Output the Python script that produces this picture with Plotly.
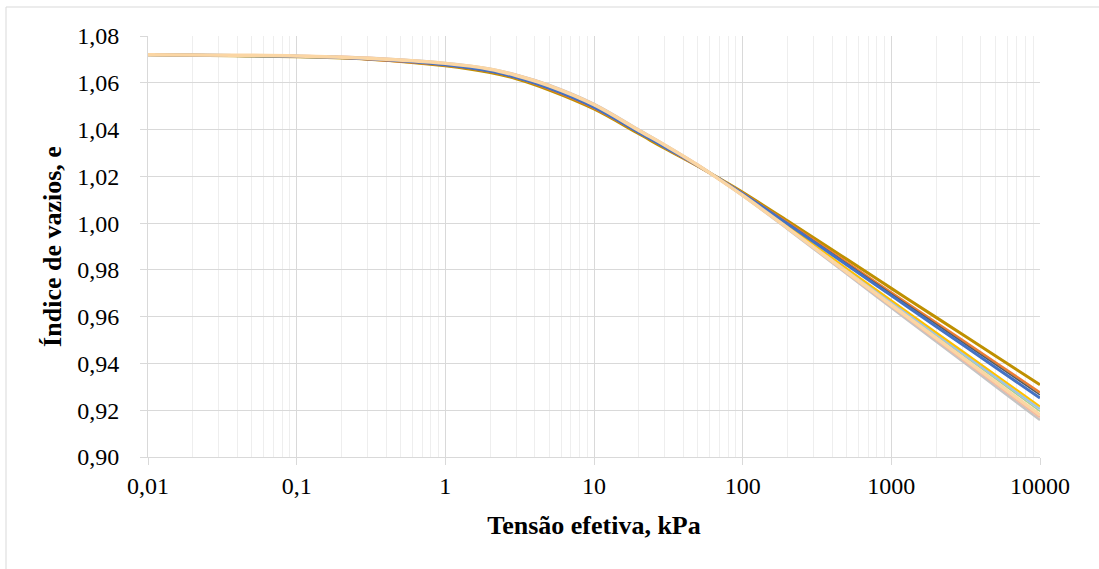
import plotly.graph_objects as go

# Effective stress (kPa)
sigma = [0.01, 0.1, 0.3, 1, 2, 3, 5, 10, 20, 30, 50, 70, 100, 200, 500, 1000, 2000, 5000, 10000]

# Void ratio series
s1 = [1.0720, 1.0711, 1.0701, 1.0673, 1.0644, 1.0617, 1.0569, 1.0488, 1.0382, 1.0319, 1.0243, 1.0190, 1.0132, 1.0010, 0.9846, 0.9721, 0.9597, 0.9433, 0.9309]
s2 = [1.0720, 1.0713, 1.0701, 1.0675, 1.0648, 1.0621, 1.0573, 1.0492, 1.0386, 1.0323, 1.0243, 1.0189, 1.0128, 1.0003, 0.9832, 0.9703, 0.9575, 0.9405, 0.9276]
s3 = [1.0720, 1.0713, 1.0703, 1.0675, 1.0648, 1.0621, 1.0575, 1.0494, 1.0386, 1.0323, 1.0245, 1.0188, 1.0127, 1.0000, 0.9828, 0.9698, 0.9568, 0.9396, 0.9266]
s4 = [1.0720, 1.0713, 1.0703, 1.0677, 1.0650, 1.0623, 1.0577, 1.0496, 1.0388, 1.0325, 1.0245, 1.0188, 1.0126, 0.9997, 0.9822, 0.9690, 0.9558, 0.9384, 0.9252]
s5 = [1.0720, 1.0713, 1.0705, 1.0679, 1.0654, 1.0627, 1.0583, 1.0502, 1.0392, 1.0329, 1.0247, 1.0187, 1.0122, 0.9989, 0.9807, 0.9670, 0.9533, 0.9353, 0.9216]
s6 = [1.0720, 1.0715, 1.0705, 1.0681, 1.0654, 1.0629, 1.0583, 1.0502, 1.0394, 1.0329, 1.0247, 1.0187, 1.0121, 0.9986, 0.9803, 0.9664, 0.9526, 0.9343, 0.9205]
s7 = [1.0720, 1.0715, 1.0705, 1.0681, 1.0656, 1.0629, 1.0585, 1.0504, 1.0394, 1.0331, 1.0247, 1.0186, 1.0120, 0.9984, 0.9798, 0.9659, 0.9519, 0.9335, 0.9195]
s8 = [1.0720, 1.0715, 1.0705, 1.0683, 1.0658, 1.0631, 1.0587, 1.0506, 1.0396, 1.0333, 1.0247, 1.0186, 1.0119, 0.9980, 0.9792, 0.9650, 0.9509, 0.9322, 0.9180]
s9 = [1.0720, 1.0715, 1.0707, 1.0683, 1.0658, 1.0633, 1.0589, 1.0508, 1.0398, 1.0333, 1.0249, 1.0186, 1.0118, 0.9978, 0.9788, 0.9645, 0.9502, 0.9313, 0.9170]
s10 = [1.0720, 1.0715, 1.0707, 1.0685, 1.0660, 1.0635, 1.0591, 1.0510, 1.0400, 1.0335, 1.0249, 1.0185, 1.0117, 0.9975, 0.9783, 0.9638, 0.9494, 0.9303, 0.9158]

x_tickvals = [0.01, 0.1, 1, 10, 100, 1000, 10000]
x_ticktext = ["0,01", "0,1", "1", "10", "100", "1000", "10000"]
minor_vals = [m * d for d in [0.01, 0.1, 1, 10, 100, 1000] for m in range(2, 10)]

series = [
    (s10, "#C4C4C4", 2.5),
    (s9, "#F4B9A0", 2.5),
    (s7, "#A9D18E", 1.5),
    (s6, "#9DC3E6", 2.5),
    (s5, "#FFC000", 2.0),
    (s1, "#BF9000", 3.0),
    (s2, "#ED7D31", 2.5),
    (s3, "#595959", 1.5),
    (s4, "#4472C4", 3.0),
    (s8, "#FBD6A4", 3.5),
]

fig = go.Figure()
for ys, col, w in series:
    fig.add_trace(go.Scatter(x=sigma, y=ys, mode="lines", line=dict(color=col, width=w, shape="spline", smoothing=1.0),
                             showlegend=False, hoverinfo="skip"))

font_fam = "'Times New Roman', 'Liberation Serif', Tinos, 'DejaVu Serif', serif"

fig.update_layout(
    width=1099, height=569,
    margin=dict(l=148, r=59, t=36, b=112),
    paper_bgcolor="white", plot_bgcolor="white",
    separators=",.",
    font=dict(family=font_fam, size=24, color="black"),
    xaxis=dict(
        type="log", range=[-2, 4],
        tickmode="array", tickvals=x_tickvals, ticktext=x_ticktext,
        showgrid=True, gridcolor="#D9D9D9", gridwidth=1,
        showline=True, linecolor="#D9D9D9", linewidth=1,
        ticks="outside", ticklen=7, tickcolor="#D9D9D9",
        tickfont=dict(family=font_fam, size=24),
        minor=dict(tickmode="array", tickvals=minor_vals, showgrid=True, gridcolor="#EEEEEE", ticks=""),
        zeroline=False,
        title=dict(text="<b>Tensão efetiva, kPa</b>", font=dict(family=font_fam, size=26), standoff=18),
    ),
    yaxis=dict(
        range=[0.90, 1.08], dtick=0.02, tick0=0.90, tickformat=".2f",
        showgrid=True, gridcolor="#D9D9D9", gridwidth=1,
        showline=True, linecolor="#D9D9D9", linewidth=1,
        ticks="outside", ticklen=7, tickcolor="#D9D9D9",
        tickfont=dict(family=font_fam, size=24), ticklabelstandoff=16,
        zeroline=False,
        title=dict(text="<b>Índice de vazios, e</b>", font=dict(family=font_fam, size=26), standoff=8),
    ),
    shapes=[
        dict(type="line", xref="paper", yref="paper", x0=-142/892, x1=1.1, y0=450/421, y1=450/421,
             line=dict(color="#D9D9D9", width=1)),
        dict(type="line", xref="paper", yref="paper", x0=-142/892, x1=-142/892, y0=450/421, y1=-0.3,
             line=dict(color="#D9D9D9", width=1)),
    ],
)

fig.write_html("out.html")
